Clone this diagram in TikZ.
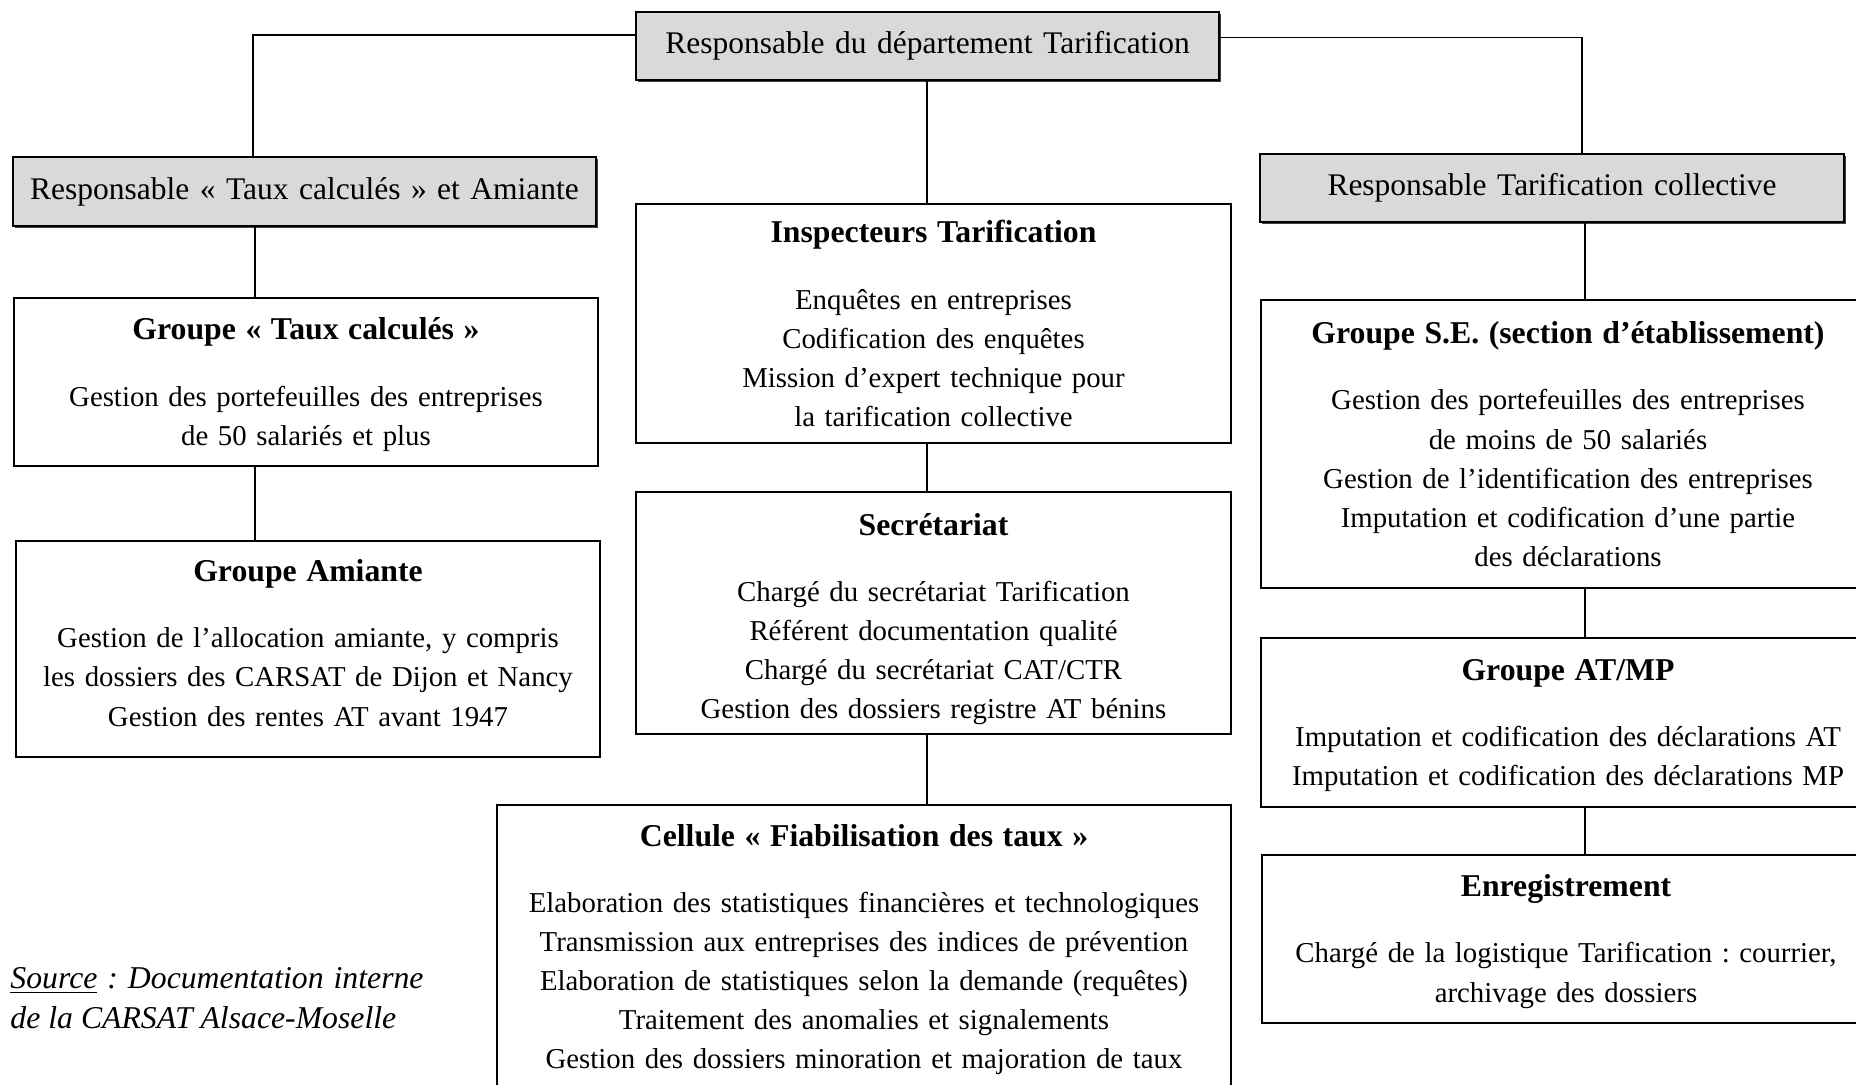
\documentclass[tikz,border=0pt]{standalone}
\usepackage{fontspec}
\setmainfont{Liberation Serif}
\newcommand\pxu{0.4096pt}
\newcommand\ttl{\fontsize{13}{16}\selectfont\bfseries}
\tikzset{
  box/.style={draw=black, line width=0.75pt, fill=white, inner sep=0pt, align=center,
              font=\fontsize{11.8}{16}\selectfont\frenchspacing},
  graybox/.style={box, fill=gray!30, font=\fontsize{12.9}{16}\selectfont\frenchspacing,
              preaction={fill=black!75, transform canvas={shift={(0.7pt,-0.7pt)}}}},
  link/.style={draw=black, line width=0.75pt},
}
\begin{document}
\frenchspacing
\begin{tikzpicture}[x=0.4096pt, y=-0.4096pt]
\useasboundingbox (0,0) rectangle (1856,1085);
\clip (0,0) rectangle (1856,1085);

% top level
\node[graybox, minimum width=583*\pxu, minimum height=68*\pxu, text width=570*\pxu] (top) at (927.5,46)
  {Responsable du département Tarification};
\node[graybox, minimum width=583*\pxu, minimum height=69*\pxu, text width=570*\pxu] (lresp) at (304.5,191.5)
  {Responsable « Taux calculés » et Amiante};
\node[graybox, minimum width=584*\pxu, minimum height=68*\pxu, text width=570*\pxu] (rresp) at (1552,188)
  {Responsable Tarification collective};

% left column
\node[box, minimum width=584*\pxu, minimum height=168*\pxu, text width=570*\pxu] (gtaux) at (306,382)
  {{\ttl\rule{0pt}{11pt}Groupe « Taux calculés »}\\[11.2pt]
   Gestion des portefeuilles des entreprises\\
   de 50 salariés et plus};
\node[box, minimum width=584*\pxu, minimum height=216*\pxu, text width=570*\pxu] (amiante) at (308,649)
  {{\ttl Groupe Amiante}\\[11.2pt]
   Gestion de l’allocation amiante, y compris\\
   les dossiers des CARSAT de Dijon et Nancy\\
   Gestion des rentes AT avant 1947\rule[-5.1pt]{0pt}{1pt}};

% middle column
\node[box, minimum width=595*\pxu, minimum height=239*\pxu, text width=580*\pxu] (insp) at (933.5,323.5)
  {{\ttl Inspecteurs Tarification}\\[11.2pt]
   Enquêtes en entreprises\\
   Codification des enquêtes\\
   Mission d’expert technique pour\\
   la tarification collective};
\node[box, minimum width=595*\pxu, minimum height=242*\pxu, text width=580*\pxu] (secr) at (933.5,613)
  {{\ttl\rule{0pt}{14pt}Secrétariat}\\[11.2pt]
   Chargé du secrétariat Tarification\\
   Référent documentation qualité\\
   Chargé du secrétariat CAT/CTR\\
   Gestion des dossiers registre AT bénins};
\node[box, minimum width=734*\pxu, minimum height=283*\pxu, text width=720*\pxu] (cellule) at (864,946.5)
  {{\ttl\rule{0pt}{11.5pt}Cellule « Fiabilisation des taux »}\\[11.2pt]
   Elaboration des statistiques financières et technologiques\\
   Transmission aux entreprises des indices de prévention\\
   Elaboration de statistiques selon la demande (requêtes)\\
   Traitement des anomalies et signalements\\
   Gestion des dossiers minoration et majoration de taux};

% right column
\node[box, minimum width=614*\pxu, minimum height=288*\pxu, text width=600*\pxu] (se) at (1568,444)
  {{\ttl Groupe S.E. (section d’établissement)}\\[11.2pt]
   Gestion des portefeuilles des entreprises\\
   de moins de 50 salariés\\
   Gestion de l’identification des entreprises\\
   Imputation et codification d’une partie\\
   des déclarations};
\node[box, minimum width=614*\pxu, minimum height=169*\pxu, text width=600*\pxu] (atmp) at (1568,722.5)
  {{\ttl\rule{0pt}{11pt}Groupe AT/MP}\\[11.2pt]
   Imputation et codification des déclarations AT\\
   Imputation et codification des déclarations MP};
\node[box, minimum width=608*\pxu, minimum height=168*\pxu, text width=595*\pxu] (enreg) at (1566,939)
  {{\ttl\rule{0pt}{11pt}Enregistrement}\\[11.2pt]
   Chargé de la logistique Tarification : courrier,\\
   archivage des dossiers};

% source
\node[font=\fontsize{13}{16.4}\selectfont\itshape\frenchspacing, align=left, anchor=west, inner sep=0pt] (src) at (10,998)
  {\makebox[169.2pt][s]{\underline{Source} : Documentation interne}\\
   de la CARSAT Alsace-Moselle};

% connectors
\coordinate (j1) at (253,35);
\coordinate (j2) at (1582,37.5);
\coordinate (cl) at (255,0);
\coordinate (cm) at (927,0);
\coordinate (cr) at (1585,0);
\draw[link] (top.west |- j1) -- (j1) -- (j1 |- lresp.north);
\draw[link] (top.east |- j2) -- (j2) -- (j2 |- rresp.north);
\draw[link] (top.south -| cm) -- (insp.north -| cm);
\draw[link] (insp.south -| cm) -- (secr.north -| cm);
\draw[link] (secr.south -| cm) -- (cellule.north -| cm);
\draw[link] (lresp.south -| cl) -- (gtaux.north -| cl);
\draw[link] (gtaux.south -| cl) -- (amiante.north -| cl);
\draw[link] (rresp.south -| cr) -- (se.north -| cr);
\draw[link] (se.south -| cr) -- (atmp.north -| cr);
\draw[link] (atmp.south -| cr) -- (enreg.north -| cr);
\end{tikzpicture}
\end{document}
